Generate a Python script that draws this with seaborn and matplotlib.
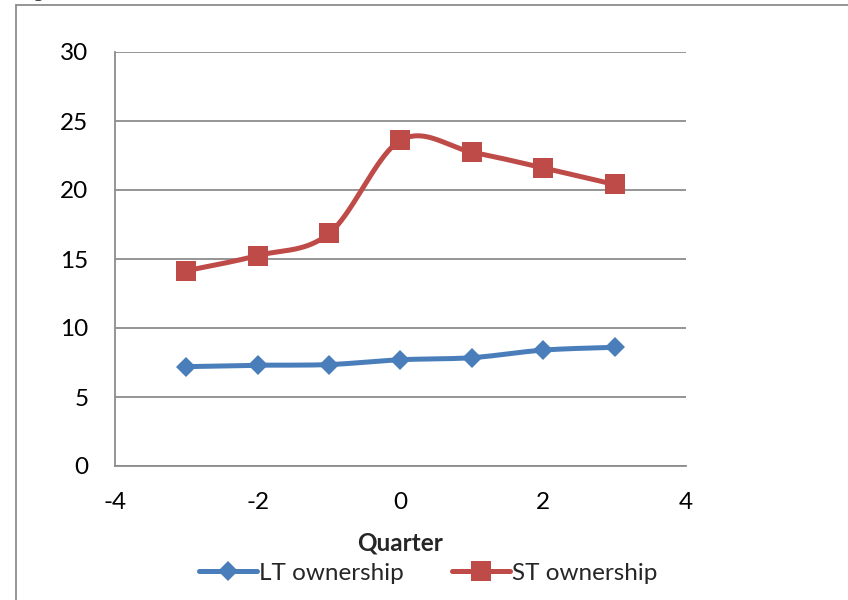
import numpy as np
import pandas as pd
import matplotlib
matplotlib.use("Agg")
import matplotlib.pyplot as plt
from matplotlib.lines import Line2D
import seaborn as sns

quarters = [-3, -2, -1, 0, 1, 2, 3]
lt_ownership = [7.2, 7.3, 7.35, 7.7, 7.85, 8.4, 8.6]
st_ownership = [14.15, 15.25, 16.85, 23.6, 22.75, 21.6, 20.4]
series_names = ["LT ownership", "ST ownership"]
x_ticks = [-4, -2, 0, 2, 4]
y_ticks = [0, 5, 10, 15, 20, 25, 30]

BLUE = "#4A7EBB"
RED = "#BE4B48"
GRID = "#8C8C8C"
FS = 17.5

sns.set_theme(style="white")
plt.rcParams["font.family"] = ["Lato", "DejaVu Sans"]


def smooth_curve(xs, ys, n=40):
    """Catmull-Rom style cubic Bezier smoothing through the given points."""
    p = np.column_stack([xs, ys]).astype(float)
    pad = np.vstack([p[0], p, p[-1]])
    out = []
    for i in range(len(p) - 1):
        p0, p1, p2, p3 = pad[i], pad[i + 1], pad[i + 2], pad[i + 3]
        c1 = p1 + (p2 - p0) / 6.0
        c2 = p2 - (p3 - p1) / 6.0
        t = np.linspace(0, 1, n, endpoint=(i == len(p) - 2))[:, None]
        seg = ((1 - t) ** 3) * p1 + 3 * ((1 - t) ** 2) * t * c1 \
            + 3 * (1 - t) * t ** 2 * c2 + t ** 3 * p2
        out.append(seg)
    out = np.vstack(out)
    return out[:, 0], out[:, 1]


fig = plt.figure(figsize=(8.48, 6.0), dpi=100)
ax = fig.add_axes([115 / 848, 1 - 466 / 600, (686 - 115) / 848, (466 - 52) / 600])

for name, values, color, marker, msize in [
    (series_names[0], lt_ownership, BLUE, "D", 10.5),
    (series_names[1], st_ownership, RED, "s", 14.5),
]:
    sx, sy = smooth_curve(quarters, values)
    curve = pd.DataFrame({"x": sx, "y": sy})
    sns.lineplot(data=curve, x="x", y="y", ax=ax, color=color, lw=3.6,
                 sort=False, estimator=None, solid_capstyle="round", zorder=3)
    pts = pd.DataFrame({"x": quarters, "y": values})
    sns.lineplot(data=pts, x="x", y="y", ax=ax, color=color, lw=0,
                 marker=marker, markersize=msize, markeredgewidth=0,
                 estimator=None, zorder=4)

ax.set_xlim(-4, 4)
ax.set_ylim(0, 30)
ax.set_xticks(x_ticks)
ax.set_yticks(y_ticks)
ax.set_xticklabels([f"{v}" for v in x_ticks])
ax.set_yticklabels([f"{v}" for v in y_ticks])
ax.yaxis.grid(True, color=GRID, lw=1.3)
ax.xaxis.grid(False)
ax.set_axisbelow(True)
for side in ["top", "right"]:
    ax.spines[side].set_visible(False)
for side in ["left", "bottom"]:
    ax.spines[side].set_color(GRID)
    ax.spines[side].set_linewidth(1.3)
ax.tick_params(axis="both", which="major", direction="out", length=6,
               width=1.3, color=GRID, labelsize=FS, labelcolor="black")
ax.tick_params(axis="y", pad=13)
ax.tick_params(axis="x", pad=13)
ax.set_xlabel("Quarter", fontsize=FS, fontweight="bold", labelpad=13)
ax.set_ylabel("")

handles = [
    Line2D([], [], color=BLUE, lw=3.6, marker="D", markersize=10.5,
           markeredgewidth=0, solid_capstyle="round"),
    Line2D([], [], color=RED, lw=3.6, marker="s", markersize=14.5,
           markeredgewidth=0, solid_capstyle="round"),
]
fig.legend(handles, series_names, loc="center", bbox_to_anchor=(428 / 848, 1 - 573 / 600),
           ncol=2, frameon=False, fontsize=FS, handlelength=2.4,
           handletextpad=0.05, columnspacing=2.0, borderaxespad=0)

# outer chart frame (left and top edges)
fig.add_artist(Line2D([16 / 848, 16 / 848], [0, 1 - 5 / 600], transform=fig.transFigure,
                      color=GRID, lw=1.3))
fig.add_artist(Line2D([16 / 848, 1], [1 - 5 / 600, 1 - 5 / 600], transform=fig.transFigure,
                      color=GRID, lw=1.3))
# caption above the chart, cut off by the top edge
fig.text(16 / 848, 1 + 4 / 600, "Figure", fontsize=15, va="baseline", ha="left",
         family=["Liberation Serif", "DejaVu Serif"])

fig.savefig("out.png", dpi=100)
